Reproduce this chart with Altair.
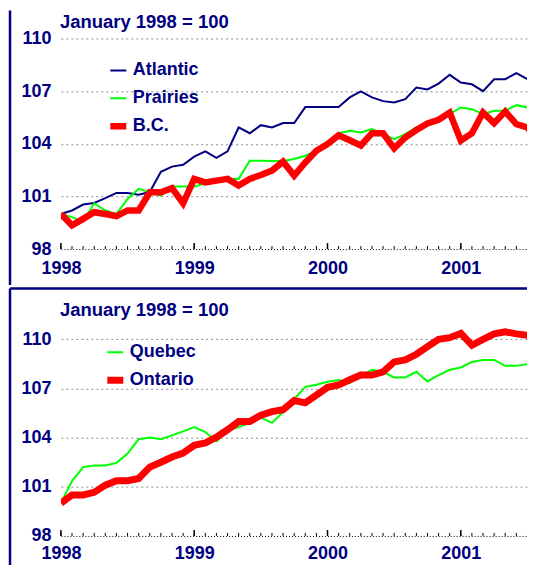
import altair as alt
import pandas as pd

start_year = 1998
n_months = 44

atlantic = [100.0, 100.2, 100.54, 100.63, 100.9, 101.2, 101.2, 101.1, 101.25, 102.4, 102.7, 102.8,
            103.27, 103.57, 103.2, 103.57, 104.93, 104.6, 105.06, 104.93, 105.18, 105.18, 106.09, 106.09,
            106.09, 106.09, 106.64, 106.98, 106.64, 106.43, 106.35, 106.54, 107.2, 107.1, 107.43, 107.93,
            107.49, 107.39, 107.0, 107.68, 107.68, 108.02, 107.68, 108.0]
prairies = [100.0, 99.82, 99.57, 100.61, 100.2, 100.0, 100.86, 101.43, 101.24, 101.05, 101.56, 101.56,
            101.56, 101.75, 101.9, 102.0, 102.0, 103.04, 103.04, 103.02, 103.02, 103.13, 103.32, 103.6,
            104.08, 104.6, 104.74, 104.65, 104.84, 104.55, 104.27, 104.55, 104.93, 105.2, 105.4, 105.69,
            106.07, 105.97, 105.69, 105.88, 105.88, 106.2, 106.07, 106.07]
bc = [100.0, 99.35, 99.72, 100.1, 100.0, 99.88, 100.2, 100.2, 101.24, 101.24, 101.47, 100.61,
      102.0, 101.8, 101.9, 102.0, 101.62, 102.0, 102.22, 102.47, 102.98, 102.19, 102.94, 103.6,
      103.98, 104.49, 104.2, 103.9, 104.6, 104.6, 103.74, 104.36, 104.78, 105.16, 105.37, 105.78,
      104.18, 104.6, 105.78, 105.18, 105.84, 105.12, 104.93, 103.98]
quebec = [100.0, 101.35, 102.2, 102.3, 102.3, 102.46, 103.03, 103.9, 104.0, 103.9, 104.14, 104.38,
          104.64, 104.34, 103.77, 104.44, 104.64, 104.9, 105.22, 104.9, 105.55, 106.36, 107.1, 107.23,
          107.41, 107.51, 107.33, 107.77, 108.14, 108.02, 107.67, 107.67, 108.02, 107.43, 107.82, 108.14,
          108.28, 108.62, 108.74, 108.74, 108.38, 108.38, 108.48, 108.74]
ontario = [100.0, 100.5, 100.5, 100.66, 101.1, 101.37, 101.37, 101.51, 102.2, 102.5, 102.82, 103.06,
           103.53, 103.67, 104.03, 104.48, 104.98, 104.98, 105.37, 105.59, 105.71, 106.26, 106.12, 106.6,
           107.07, 107.21, 107.53, 107.82, 107.82, 108.02, 108.62, 108.74, 109.09, 109.55, 110.0, 110.1,
           110.36, 109.64, 110.0, 110.33, 110.46, 110.33, 110.24, 110.24]

top_names = ["Atlantic", "Prairies", "B.C."]
bottom_names = ["Quebec", "Ontario"]
y_ticks = [98, 101, 104, 107, 110]
year_ticks = [0, 12, 24, 36]
title_text = "January 1998 = 100"

NAVY = "#000080"
FONT = "Liberation Sans"
W = 467
PX_PER_MONTH = 11.13
X_MAX = W / PX_PER_MONTH          # the reference is cut at the window's right edge
H1 = 211
H2 = 197
Y_TOP2 = 111                      # head-room so the Ontario line is not clipped
DY2 = H2 / 12.0 * (Y_TOP2 - 110)
H2B = H2 + DY2


def panel(names, series, colors, widths, H, ytop, off, title_y, lx, ly, lab_pad):
    rows = []
    for name, vals in zip(names, series):
        for i, v in enumerate(vals):
            rows.append({"m": i, "value": v, "series": name})
    df = pd.DataFrame(rows)

    xscale = alt.Scale(domain=[0, X_MAX], nice=False, zero=False)
    yscale = alt.Scale(domain=[98, ytop], nice=False, zero=False)

    leg = dict(orient="none", legendX=lx, legendY=ly + off, title=None, labelFontSize=18,
               labelFont=FONT, labelFontWeight="bold", labelColor=NAVY, symbolType="stroke",
               symbolSize=256, labelOffset=3, rowPadding=10, padding=0, clipHeight=18)

    lines = alt.Chart(df).mark_line(clip=True).encode(
        x=alt.X("m:Q", scale=xscale,
                axis=alt.Axis(values=year_ticks, labelExpr=f"'' + ({start_year} + datum.value / 12)",
                              title=None, grid=False, ticks=False, domain=True,
                              domainDash=[1, 2], domainColor="#000000", domainWidth=1,
                              labelFontSize=18, labelFont=FONT, labelFontWeight="bold",
                              labelColor=NAVY, labelPadding=lab_pad, labelFlush=False,
                              labelOverlap=False, labelBound=False)),
        y=alt.Y("value:Q", scale=yscale,
                axis=alt.Axis(values=y_ticks, title=None, domain=False, ticks=False, grid=True,
                              gridDash=[2, 3], gridColor="#8c8c8c", gridWidth=1,
                              gridOpacity={"condition": {"test": "datum.value === 98", "value": 0}, "value": 1},
                              labelFontSize=18, labelFont=FONT, labelFontWeight="bold",
                              labelColor=NAVY, labelPadding=10)),
        color=alt.Color("series:N", scale=alt.Scale(domain=names, range=colors), legend=alt.Legend(**leg)),
        strokeWidth=alt.StrokeWidth("series:N", scale=alt.Scale(type="ordinal", domain=names, range=widths),
                                    legend=alt.Legend(**leg)),
        order=alt.Order("m:Q"),
    )

    months = pd.DataFrame({"m": [m for m in range(n_months) if m <= X_MAX]})
    minor = alt.Chart(months).mark_rule(color="#000000", strokeWidth=1).encode(
        x=alt.X("m:Q", scale=xscale), y=alt.value(H), y2=alt.value(H - 3))
    major = alt.Chart(pd.DataFrame({"m": year_ticks})).mark_rule(color="#000000", strokeWidth=1.5).encode(
        x=alt.X("m:Q", scale=xscale), y=alt.value(H), y2=alt.value(H - 6))

    title = alt.Chart(pd.DataFrame({"t": [title_text]})).mark_text(
        align="left", baseline="middle", font=FONT, fontSize=18.5, fontWeight="bold", color=NAVY
    ).encode(x=alt.value(-1), y=alt.value(title_y + off), text="t:N")

    return [minor, major, lines, title]


top_layers = panel(top_names, [atlantic, prairies, bc],
                   [NAVY, "#00ff00", "#ff0000"], [2, 2, 6.5], H1, 110, 0, -17, 46, 23, 10)
bottom_layers = panel(bottom_names, [quebec, ontario],
                      ["#00ff00", "#ff0000"], [2, 7], H2B, Y_TOP2, DY2, -29, 43, 4, 9)

frame_top = alt.Chart(pd.DataFrame({"a": [0]})).mark_rule(color=NAVY, strokeWidth=2.5).encode(
    x=alt.value(-51), y=alt.value(-28), y2=alt.value(H1 + 36))
frame_sep = alt.Chart(pd.DataFrame({"a": [0]})).mark_rule(color=NAVY, strokeWidth=2.5).encode(
    x=alt.value(-51), x2=alt.value(W), y=alt.value(DY2 - 51))
frame_bot = alt.Chart(pd.DataFrame({"a": [0]})).mark_rule(color=NAVY, strokeWidth=2.5).encode(
    x=alt.value(-51), y=alt.value(DY2 - 51), y2=alt.value(H2B + 34))

top = alt.layer(*top_layers, frame_top).properties(width=W, height=H1)
bottom = alt.layer(*bottom_layers, frame_sep, frame_bot).properties(width=W, height=H2B)

chart = alt.vconcat(top, bottom, spacing=0).resolve_scale(
    color="independent", strokeWidth="independent"
).resolve_legend(color="independent", strokeWidth="independent").properties(
    padding=0, background="white").configure_view(stroke=None)

chart.save("out.html", embed_options={"renderer": "svg", "actions": False})
